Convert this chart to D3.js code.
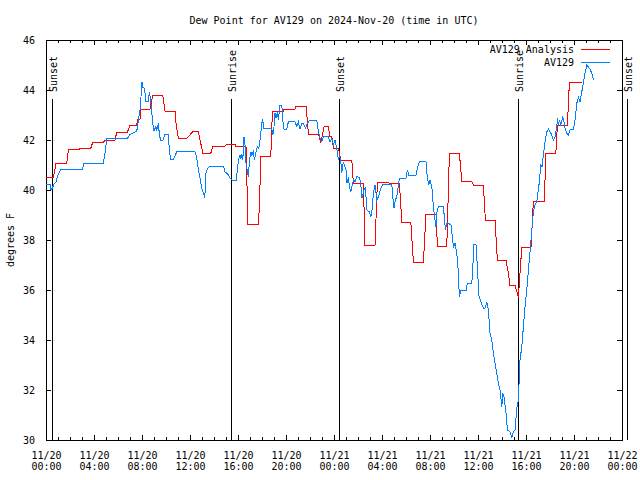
<!DOCTYPE html>
<html><head><meta charset="utf-8">
<script src="https://cdn.jsdelivr.net/npm/d3@7"></script>
<style>
body{margin:0;background:#fff}
svg text{font-family:"DejaVu Sans Mono","Liberation Mono",monospace;font-size:10px;fill:#000}
</style>
</head><body>
<svg id="c" width="640" height="480"></svg>
<script>
// ---------- data ----------
const titleText = "Dew Point for AV129 on 2024-Nov-20 (time in UTC)";
const yLabelText = "degrees F";
const seriesNames = ["AV129 Analysis", "AV129"];
const seriesColors = ["#ff0000", "#0080ff"];
const yTicks = [30, 32, 34, 36, 38, 40, 42, 44, 46];
const xTickHours = [0, 4, 8, 12, 16, 20, 24, 28, 32, 36, 40, 44, 48];
const sunEvents = ["Sunset", "Sunrise", "Sunset", "Sunrise", "Sunset"];
const sunMinutes = [31, 923, 1466, 2362, 2903];

// minutes after 2024-11-20 00:00 UTC
const analysisMinutes = [0,37,50,104,112,167,170,224,234,287,295,345,354,407,420,454,457,470,474,520,534,584,595,645,650,662,704,734,762,784,824,834,895,904,945,950,1000,1010,1062,1067,1074,1124,1132,1187,1190,1245,1250,1300,1307,1312,1362,1374,1390,1412,1420,1429,1437,1462,1474,1529,1537,1587,1595,1645,1657,1712,1715,1767,1779,1824,1837,1887,1900,1950,1957,2004,2017,2067,2079,2129,2140,2187,2197,2245,2257,2300,2312,2319,2345,2362,2379,2425,2437,2492,2499,2549,2557,2607,2617,2679];
const analysisValues = [40.5,40.5,41.07,41.07,41.63,41.63,41.67,41.67,41.92,41.92,41.99,41.99,42.32,42.32,42.59,42.59,42.84,42.84,43.23,43.23,43.8,43.8,43.16,43.16,42.67,42.07,42.07,42.33,42.33,41.47,41.47,41.76,41.76,41.84,41.84,41.73,41.73,38.64,38.64,39.33,41.36,41.36,43.13,43.13,43.23,43.23,43.36,43.36,42.73,42.24,42.24,41.89,42.53,42.53,42.13,42.13,41.67,41.67,41.2,41.2,40.27,40.27,37.79,37.79,40.32,40.32,40.27,40.27,38.72,38.72,37.12,37.12,39.04,39.04,37.76,37.76,41.47,41.47,40.33,40.33,40.17,40.17,38.8,38.8,37.2,37.2,36.67,36.2,36.2,35.7,37.72,37.72,39.56,39.56,41.47,41.47,42.6,42.6,44.31,44.31];

const obsMinutes = [0,20,25,33,40,50,57,67,74,184,187,287,295,304,407,417,454,462,470,475,480,485,490,497,500,512,517,524,529,534,540,549,554,562,567,574,587,594,612,617,624,637,645,654,745,754,762,770,779,787,794,799,809,820,887,895,912,920,934,950,957,962,970,974,979,984,990,995,1000,1007,1012,1017,1024,1029,1037,1042,1050,1057,1064,1070,1079,1084,1087,1129,1134,1140,1145,1150,1157,1162,1167,1170,1179,1184,1190,1204,1212,1245,1254,1262,1270,1279,1287,1297,1307,1317,1354,1362,1370,1379,1387,1412,1420,1429,1437,1445,1454,1462,1467,1474,1479,1487,1500,1504,1512,1517,1524,1529,1537,1545,1554,1567,1574,1579,1584,1590,1597,1604,1617,1624,1630,1637,1645,1654,1662,1674,1684,1729,1734,1740,1747,1754,1762,1767,1800,1807,1814,1850,1857,1867,1900,1907,1914,1920,1929,1937,1945,1950,1955,1962,1987,1992,1997,2004,2012,2025,2037,2045,2054,2060,2067,2074,2100,2107,2129,2134,2140,2150,2157,2164,2174,2187,2195,2204,2212,2220,2229,2237,2245,2254,2262,2270,2279,2284,2290,2300,2307,2320,2329,2337,2345,2354,2362,2370,2379,2387,2395,2404,2412,2420,2429,2437,2445,2454,2467,2474,2480,2487,2495,2504,2512,2520,2529,2537,2545,2554,2557,2562,2567,2574,2584,2590,2595,2604,2612,2620,2637,2645,2654,2662,2670,2679,2687,2695,2704,2712,2720,2729,2737];
const obsValues = [40.24,40.24,40.0,40.1,40.24,40.33,40.53,40.73,40.83,40.83,41.07,41.07,41.47,42.05,42.05,42.2,42.36,42.8,43.2,43.73,44.33,44.1,44.07,43.8,43.53,43.53,43.93,43.53,43.07,42.67,42.37,42.53,42.4,42.67,42.2,41.97,42.0,42.24,42.24,41.53,41.23,41.23,41.37,41.53,41.53,41.27,40.8,40.47,40.07,39.87,39.67,40.67,40.87,40.96,40.96,40.73,40.6,40.47,40.37,40.37,40.8,41.2,41.4,41.25,41.44,41.2,42.13,41.8,41.07,40.73,40.53,41.13,41.53,41.4,41.53,41.2,41.53,41.73,41.67,42.0,42.67,42.83,42.47,42.47,42.2,42.53,43.07,42.87,43.13,42.8,43.2,43.4,43.4,42.8,42.43,42.43,42.73,42.73,42.53,42.73,42.43,42.67,42.67,42.47,42.67,42.77,42.77,42.33,42.07,41.93,42.13,42.13,41.93,42.07,41.8,42.0,41.67,41.2,41.4,41.13,40.7,41.13,40.8,40.27,40.5,40.13,39.93,40.13,40.4,40.33,40.53,40.5,40.27,39.67,39.8,40.0,40.13,39.2,39.13,38.93,39.2,39.87,40.2,39.6,39.73,40.07,40.24,40.24,39.73,39.27,39.6,39.73,40.2,40.47,40.47,40.8,40.6,40.6,40.87,41.13,41.13,40.47,40.2,40.4,40.13,39.33,38.8,38.53,39.13,39.36,39.36,38.87,38.4,38.67,38.67,38.6,37.73,37.87,37.47,36.9,35.73,35.97,35.97,36.27,36.27,36.93,37.84,37.8,36.93,35.8,35.53,35.27,35.27,35.53,35.2,34.27,34.0,33.47,33.07,32.67,32.27,32.0,31.33,31.87,31.73,31.07,30.4,30.33,30.1,30.33,30.4,31.27,31.6,33.2,33.73,34.53,35.33,36.0,36.8,37.5,38.4,39.15,39.4,39.55,40.33,41.0,40.93,41.4,41.93,42.33,42.43,42.33,42.2,42.0,42.13,42.53,42.87,42.6,42.8,42.6,42.91,42.73,42.47,42.27,42.2,42.4,42.43,42.8,43.47,43.71,43.53,43.93,44.29,44.67,45.0,44.93,44.83,44.67,44.4];

// ---------- chart ----------
const L = 46, R = 622, T = 40, B = 440;
const t0 = Date.UTC(2024, 10, 20, 0, 0);
const toDate = m => new Date(t0 + m * 60000);

const svg = d3.select("#c");
const x = d3.scaleUtc().domain([toDate(0), toDate(48 * 60)]).range([L, R]);
const y = d3.scaleLinear().domain([30, 46]).range([B, T]);

svg.append("defs").append("clipPath").attr("id", "pc")
  .append("rect").attr("x", L).attr("y", T).attr("width", R - L).attr("height", B - T);

const fmtD = d3.utcFormat("%m/%d"), fmtT = d3.utcFormat("%H:%M");
const majorTicks = xTickHours.map(h => toDate(h * 60));
const minorTicks = d3.range(0, 49).filter(h => h % 4 !== 0).map(h => toDate(h * 60));

function styleAxis(g) {
  g.select(".domain").remove();
  g.selectAll("line").attr("stroke", "#000").attr("shape-rendering", "crispEdges");
}

const gxB = svg.append("g").attr("transform", `translate(0,${B})`)
  .call(d3.axisBottom(x).tickValues(majorTicks).tickSizeInner(-5).tickSizeOuter(0).tickPadding(0).tickFormat(() => ""));
styleAxis(gxB);
gxB.selectAll(".tick text").remove();
gxB.selectAll(".tick").each(function(d) {
  const t = d3.select(this).append("text").attr("text-anchor", "middle").attr("fill", "#000");
  t.append("tspan").attr("x", 0).attr("y", 19).text(fmtD(d));
  t.append("tspan").attr("x", 0).attr("y", 30).text(fmtT(d));
});
const gxBm = svg.append("g").attr("transform", `translate(0,${B})`)
  .call(d3.axisBottom(x).tickValues(minorTicks).tickSizeInner(-3).tickSizeOuter(0).tickFormat(() => ""));
styleAxis(gxBm);
const gxT = svg.append("g").attr("transform", `translate(0,${T})`)
  .call(d3.axisTop(x).tickValues(majorTicks).tickSizeInner(-5).tickSizeOuter(0).tickFormat(() => ""));
styleAxis(gxT);
const gxTm = svg.append("g").attr("transform", `translate(0,${T})`)
  .call(d3.axisTop(x).tickValues(minorTicks).tickSizeInner(-3).tickSizeOuter(0).tickFormat(() => ""));
styleAxis(gxTm);

const gyL = svg.append("g").attr("transform", `translate(${L},0)`)
  .call(d3.axisLeft(y).tickValues(yTicks).tickSizeInner(-5).tickSizeOuter(0).tickPadding(11).tickFormat(d3.format("d")));
styleAxis(gyL);
gyL.selectAll(".tick text").attr("fill", "#000").attr("dy", "0.35em");
const gyR = svg.append("g").attr("transform", `translate(${R},0)`)
  .call(d3.axisRight(y).tickValues(yTicks).tickSizeInner(-5).tickSizeOuter(0).tickFormat(() => ""));
styleAxis(gyR);
svg.selectAll("g").attr("font-family", null).attr("font-size", null);

svg.append("rect").attr("x", L).attr("y", T).attr("width", R - L).attr("height", B - T)
  .attr("fill", "none").attr("stroke", "#000").attr("shape-rendering", "crispEdges");

sunEvents.forEach((name, i) => {
  const sx = Math.round(x(toDate(sunMinutes[i]))) + 0.5;
  svg.append("line").attr("x1", sx).attr("x2", sx).attr("y1", 99).attr("y2", B)
    .attr("stroke", "#000").attr("shape-rendering", "crispEdges");
  svg.append("text").attr("transform", `translate(${sx + 4},92) rotate(-90)`)
    .attr("text-anchor", "start").text(name);
});

const line = d3.line().x(d => x(toDate(d[0]))).y(d => y(d[1]));
const analysis = analysisMinutes.map((m, i) => [m, analysisValues[i]]);
const obs = obsMinutes.map((m, i) => [m, obsValues[i]]);
const gd = svg.append("g").attr("clip-path", "url(#pc)");
gd.append("path").datum(analysis).attr("d", line).attr("fill", "none")
  .attr("stroke", seriesColors[0]).attr("stroke-width", 1).attr("shape-rendering", "crispEdges");
gd.append("path").datum(obs).attr("d", line).attr("fill", "none")
  .attr("stroke", seriesColors[1]).attr("stroke-width", 1).attr("shape-rendering", "crispEdges");

seriesNames.forEach((n, i) => {
  const ly = 49.5 + i * 13;
  svg.append("text").attr("x", 574).attr("y", ly + 3.5).attr("text-anchor", "end").text(n);
  svg.append("line").attr("x1", 581).attr("x2", 610).attr("y1", ly).attr("y2", ly)
    .attr("stroke", seriesColors[i]).attr("shape-rendering", "crispEdges");
});

svg.append("text").attr("x", 334).attr("y", 23.5).attr("text-anchor", "middle").text(titleText);
svg.append("text").attr("transform", `translate(13.5,${(T + B) / 2}) rotate(-90)`)
  .attr("text-anchor", "middle").text(yLabelText);
</script>
</body></html>
